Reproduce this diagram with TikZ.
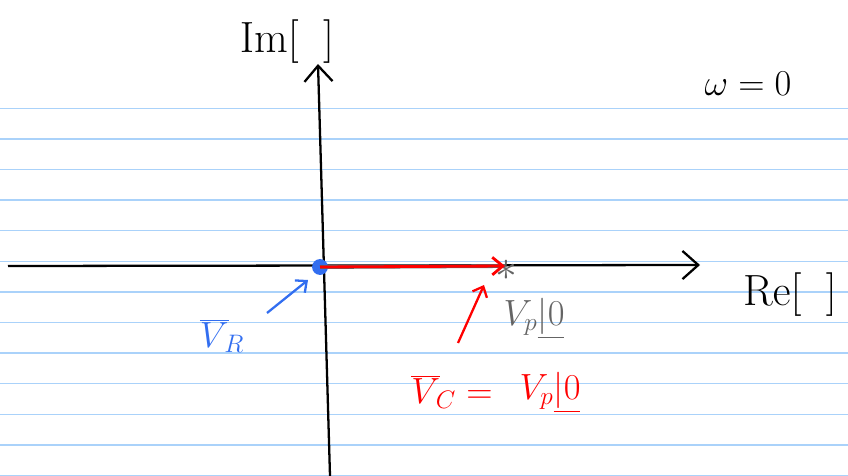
\documentclass[tikz,border=0pt]{standalone}
\usetikzlibrary{arrows.meta}
\definecolor{ruleblue}{RGB}{170,210,250}
\definecolor{penblue}{RGB}{50,110,240}
\definecolor{pengray}{RGB}{100,100,100}
\newcommand{\phang}[1]{\ensuremath{\underline{|#1}}}
\tikzset{
  hand/.style={font=\fontsize{24}{24}\selectfont},
  label/.style={font=\fontsize{20}{20}\selectfont},
  axis/.style={line width=1.3pt,-{Straight Barb[length=9pt,width=16pt]}},
  pointer/.style={line width=1.3pt,-{Straight Barb[length=5pt,width=9pt]}}
}
\begin{document}
\begin{tikzpicture}[x=0.02cm,y=-0.02cm]
\useasboundingbox (0,0) rectangle (848,476);
\foreach \k in {0,...,12}
  \draw[ruleblue,line width=0.8pt] (0,108.3+30.6*\k) -- (848,108.3+30.6*\k);

\coordinate (imbot) at (330,476);
\coordinate (imtop) at (318,64);
\coordinate (releft) at (8,266);
\coordinate (reright) at (700,265);

\node[hand] (im) at (287,42) {$\mathrm{Im}[\;\;]$};
\node[hand] (re) at (790,295) {$\mathrm{Re}[\;\;]$};
\node[label] (w) at (748,84) {$\omega=0$};

\draw[axis] (imbot)--(imtop);
\draw[axis] (releft)--(reright);

\node[circle,fill=penblue,inner sep=3.2pt] (o) at (320,267) {};
\coordinate (tip) at (505,266);
\draw[pengray,line width=2.2pt] (o.center)--(tip);
\node[pengray,font=\fontsize{34}{34}\selectfont\bfseries] (star) at (506,270) {$\ast$};
\draw[red,line width=1.6pt,-{Straight Barb[length=6pt,width=10pt]}] (o.center)--(tip);

\node[label,penblue] (vr) at (222,336) {$\overline{V}_{\!R}$};
\coordinate (vrfrom) at (267,313);
\coordinate (vrto) at (308,280);
\draw[pointer,penblue] (vrfrom)--(vrto);

\node[label,pengray] (vp) at (534,318) {$V_p\phang{0}$};

\node[label,red] (vc) at (452,392) {$\overline{V}_{\!C} =$};
\node[label,red] (vcval) at (550,392) {$V_p\phang{0}$};
\coordinate (vcfrom) at (458,343);
\coordinate (vcto) at (484,285);
\draw[pointer,red] (vcfrom)--(vcto);
\end{tikzpicture}
\end{document}
